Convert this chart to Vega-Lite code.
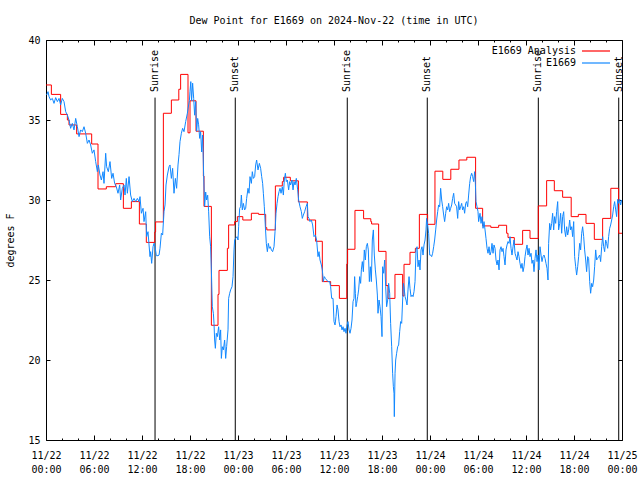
{
  "$schema": "https://vega.github.io/schema/vega-lite/v6.json",
  "autosize": "none",
  "padding": {"left": 46, "top": 40, "right": 18, "bottom": 40},
  "width": 576,
  "height": 400,
  "background": "white",
  "title": {"text": "Dew Point for E1669 on 2024-Nov-22 (time in UTC)", "font": "DejaVu Sans Mono", "fontSize": 10, "fontWeight": "normal", "color": "black", "anchor": "middle", "offset": 9},
  "config": {
    "view": {"stroke": "black", "strokeWidth": 1},
    "axis": {"labelFont": "DejaVu Sans Mono", "labelFontSize": 10, "labelColor": "black", "tickColor": "black", "titleFont": "DejaVu Sans Mono", "titleFontSize": 10, "titleFontWeight": "normal", "titleColor": "black", "grid": false, "domain": false}
  },
  "datasets": {
    "red": [
      {"h":0,"v":37.19},{"h":0.67,"v":36.6},{"h":1.83,"v":35.35},{"h":2.67,"v":35.0},{"h":2.875,"v":34.69},{"h":3.83,"v":34.13},{"h":5.71,"v":33.5},{"h":6.5,"v":30.69},{"h":7.54,"v":30.83},{"h":8.71,"v":31.02},{"h":9.67,"v":29.48},{"h":10.67,"v":29.9},{"h":11.67,"v":28.5},{"h":12.54,"v":27.35},{"h":13.6,"v":28.0},{"h":13.7,"v":28.63},{"h":14.67,"v":35.42},{"h":15.67,"v":36.25},{"h":16.6,"v":36.92},{"h":16.83,"v":37.85},{"h":17.75,"v":34.2},{"h":18.0,"v":36.2},{"h":18.75,"v":34.3},{"h":19.67,"v":31.5},{"h":19.75,"v":29.6},{"h":20.67,"v":22.17},{"h":21.5,"v":24.1},{"h":21.625,"v":25.6},{"h":22.67,"v":26.98},{"h":22.83,"v":28.44},{"h":23.58,"v":28.65},{"h":23.92,"v":28.96},{"h":24.6,"v":28.75},{"h":25.67,"v":29.17},{"h":26.58,"v":29.1},{"h":27.46,"v":28.27},{"h":27.6,"v":28.13},{"h":28.67,"v":30.88},{"h":29.54,"v":31.15},{"h":29.7,"v":31.42},{"h":30.54,"v":31.2},{"h":31.55,"v":29.88},{"h":32.67,"v":28.75},{"h":33.7,"v":27.42},{"h":34.54,"v":24.9},{"h":35.58,"v":24.65},{"h":36.67,"v":23.85},{"h":37.6,"v":26.0},{"h":37.7,"v":26.92},{"h":38.62,"v":29.35},{"h":39.7,"v":28.83},{"h":40.6,"v":28.65},{"h":40.7,"v":28.5},{"h":41.58,"v":26.79},{"h":42.5,"v":24.65},{"h":42.75,"v":23.85},{"h":43.62,"v":25.35},{"h":44.58,"v":24.0},{"h":44.75,"v":25.98},{"h":45.5,"v":26.73},{"h":46.17,"v":26.98},{"h":46.67,"v":29.1},{"h":47.7,"v":28.48},{"h":48.62,"v":31.8},{"h":49.6,"v":31.29},{"h":50.6,"v":31.92},{"h":51.62,"v":32.5},{"h":52.6,"v":32.67},{"h":53.7,"v":29.48},{"h":54.58,"v":28.38},{"h":55.6,"v":28.29},{"h":56.58,"v":28.42},{"h":57.58,"v":27.92},{"h":57.75,"v":27.65},{"h":58.54,"v":27.23},{"h":59.58,"v":28.1},{"h":60.5,"v":27.6},{"h":61.54,"v":29.63},{"h":62.58,"v":31.21},{"h":63.54,"v":30.58},{"h":64.58,"v":30.17},{"h":65.65,"v":28.96},{"h":66.54,"v":29.1},{"h":67.5,"v":28.54},{"h":68.54,"v":27.54},{"h":69.58,"v":28.85},{"h":70.6,"v":30.73},{"h":71.58,"v":27.92},{"h":72,"v":27.92}
    ],
    "blue": [
      {"h":0.08,"v":36.56},{"h":0.25,"v":36.77},{"h":0.38,"v":36.46},{"h":0.58,"v":36.25},{"h":0.79,"v":36.35},{"h":1.0,"v":36.04},{"h":1.21,"v":36.4},{"h":1.42,"v":36.15},{"h":1.63,"v":36.35},{"h":1.83,"v":35.94},{"h":2.04,"v":36.35},{"h":2.25,"v":36.15},{"h":2.46,"v":35.52},{"h":2.67,"v":35.31},{"h":2.88,"v":35.0},{"h":3.08,"v":34.48},{"h":3.29,"v":34.79},{"h":3.5,"v":34.38},{"h":3.71,"v":35.1},{"h":3.92,"v":34.58},{"h":4.13,"v":33.96},{"h":4.33,"v":34.38},{"h":4.54,"v":34.27},{"h":4.75,"v":34.58},{"h":4.96,"v":34.17},{"h":5.17,"v":33.54},{"h":5.38,"v":33.75},{"h":5.58,"v":33.44},{"h":5.79,"v":32.92},{"h":6.0,"v":33.13},{"h":6.21,"v":32.4},{"h":6.42,"v":31.77},{"h":6.54,"v":32.19},{"h":6.75,"v":31.56},{"h":6.92,"v":31.25},{"h":7.13,"v":31.77},{"h":7.25,"v":31.04},{"h":7.46,"v":32.92},{"h":7.58,"v":32.08},{"h":7.79,"v":31.77},{"h":8.0,"v":32.4},{"h":8.21,"v":31.35},{"h":8.38,"v":31.67},{"h":8.58,"v":31.04},{"h":8.79,"v":30.83},{"h":9.0,"v":30.42},{"h":9.21,"v":30.94},{"h":9.33,"v":30.0},{"h":9.54,"v":30.73},{"h":9.75,"v":30.94},{"h":9.88,"v":30.31},{"h":10.04,"v":31.35},{"h":10.17,"v":30.42},{"h":10.38,"v":31.46},{"h":10.58,"v":30.31},{"h":10.79,"v":29.9},{"h":11.0,"v":30.1},{"h":11.21,"v":29.9},{"h":11.42,"v":30.1},{"h":11.63,"v":29.9},{"h":11.75,"v":30.21},{"h":11.92,"v":29.17},{"h":12.13,"v":29.48},{"h":12.25,"v":28.65},{"h":12.46,"v":29.27},{"h":12.58,"v":27.71},{"h":12.75,"v":28.02},{"h":12.88,"v":27.19},{"h":13.0,"v":26.46},{"h":13.08,"v":26.77},{"h":13.21,"v":26.04},{"h":13.38,"v":27.08},{"h":13.5,"v":27.29},{"h":13.63,"v":27.08},{"h":13.79,"v":26.52},{"h":14.0,"v":26.52},{"h":14.13,"v":26.56},{"h":14.25,"v":26.98},{"h":14.42,"v":27.92},{"h":14.58,"v":27.81},{"h":14.75,"v":29.27},{"h":14.88,"v":29.69},{"h":15.0,"v":30.94},{"h":15.17,"v":31.56},{"h":15.38,"v":32.08},{"h":15.5,"v":32.19},{"h":15.67,"v":31.35},{"h":15.83,"v":31.98},{"h":16.0,"v":30.42},{"h":16.17,"v":31.35},{"h":16.33,"v":30.73},{"h":16.5,"v":32.19},{"h":16.63,"v":32.85},{"h":16.75,"v":33.65},{"h":16.92,"v":34.17},{"h":17.08,"v":34.48},{"h":17.25,"v":34.27},{"h":17.46,"v":34.9},{"h":17.67,"v":35.42},{"h":17.83,"v":35.94},
      {"h":17.92,"v":36.2},{"h":18.0,"v":36.8},{"h":18.1,"v":37.4},{"h":18.2,"v":36.2},{"h":18.33,"v":37.3},{"h":18.46,"v":36.35},{"h":18.58,"v":35.3},{"h":18.71,"v":36.15},{"h":18.83,"v":34.3},{"h":18.96,"v":35.1},{"h":19.08,"v":34.7},{"h":19.21,"v":33.85},{"h":19.33,"v":34.27},{"h":19.46,"v":33.0},{"h":19.58,"v":34.06},{"h":19.71,"v":31.5},{"h":19.83,"v":29.6},{"h":19.96,"v":30.5},{"h":20.08,"v":30.0},{"h":20.21,"v":30.3},{"h":20.33,"v":29.3},{"h":20.46,"v":27.7},{"h":20.58,"v":27.08},{"h":20.67,"v":25.63},
      {"h":20.79,"v":23.33},{"h":20.92,"v":22.92},{"h":21.0,"v":22.29},{"h":21.08,"v":21.25},{"h":21.17,"v":20.73},{"h":21.29,"v":21.67},{"h":21.42,"v":21.46},{"h":21.58,"v":22.08},{"h":21.71,"v":21.25},{"h":21.83,"v":21.88},{"h":21.92,"v":20.1},{"h":22.04,"v":20.83},{"h":22.17,"v":20.63},{"h":22.33,"v":21.25},{"h":22.46,"v":20.1},{"h":22.58,"v":20.83},{"h":22.75,"v":21.88},{"h":22.83,"v":23.85},{"h":22.96,"v":24.17},{"h":23.08,"v":24.38},{"h":23.25,"v":24.58},{"h":23.38,"v":25.21},{"h":23.5,"v":26.88},{"h":23.58,"v":27.5},{"h":23.71,"v":27.6},{"h":23.88,"v":27.71},{"h":24.0,"v":27.5},{"h":24.08,"v":28.33},{"h":24.21,"v":29.48},{"h":24.33,"v":29.58},{"h":24.42,"v":30.31},{"h":24.54,"v":29.38},{"h":24.67,"v":29.79},{"h":24.83,"v":29.38},{"h":24.96,"v":29.48},{"h":25.08,"v":30.1},{"h":25.25,"v":30.73},{"h":25.38,"v":30.42},{"h":25.5,"v":31.46},{"h":25.67,"v":31.04},{"h":25.79,"v":31.77},{"h":25.92,"v":31.35},{"h":26.08,"v":31.46},{"h":26.21,"v":32.19},{"h":26.33,"v":32.5},{"h":26.5,"v":31.88},{"h":26.67,"v":32.29},{"h":26.83,"v":31.98},{"h":26.96,"v":31.46},{"h":27.08,"v":31.04},{"h":27.17,"v":30.42},{"h":27.29,"v":29.58},{"h":27.42,"v":28.33},{"h":27.54,"v":27.29},{"h":27.67,"v":26.77},{"h":27.79,"v":27.29},{"h":27.92,"v":26.98},{"h":28.04,"v":27.08},{"h":28.17,"v":26.88},{"h":28.33,"v":26.77},{"h":28.5,"v":27.08},{"h":28.63,"v":28.02},{"h":28.75,"v":29.17},{"h":28.88,"v":29.79},{"h":29.0,"v":30.21},{"h":29.13,"v":30.52},{"h":29.25,"v":30.73},{"h":29.38,"v":30.42},{"h":29.54,"v":30.83},{"h":29.67,"v":30.31},{"h":29.79,"v":31.25},{"h":29.92,"v":31.67},{"h":30.04,"v":31.15},{"h":30.17,"v":31.25},{"h":30.33,"v":30.63},{"h":30.46,"v":31.15},{"h":30.58,"v":30.94},{"h":30.75,"v":31.25},{"h":30.88,"v":30.63},{"h":31.0,"v":31.15},{"h":31.13,"v":30.94},{"h":31.29,"v":31.35},{"h":31.46,"v":30.63},{"h":31.58,"v":30.0},{"h":31.75,"v":29.58},{"h":31.92,"v":29.27},{"h":32.04,"v":28.85},{"h":32.17,"v":29.06},{"h":32.33,"v":29.27},{"h":32.5,"v":29.58},{"h":32.67,"v":29.79},{"h":32.75,"v":28.96},{"h":32.88,"v":28.85},{"h":33.0,"v":28.65},{"h":33.17,"v":28.75},{"h":33.33,"v":28.44},{"h":33.5,"v":27.71},{"h":33.67,"v":27.81},{"h":33.83,"v":27.5},{"h":34.0,"v":26.46},{"h":34.13,"v":26.77},{"h":34.25,"v":26.25},{"h":34.42,"v":25.94},{"h":34.54,"v":25.63},{"h":34.67,"v":24.9},{"h":34.79,"v":25.21},{"h":34.92,"v":25.1},{"h":35.08,"v":25.0},{"h":35.25,"v":24.9},{"h":35.46,"v":24.9},{"h":35.58,"v":24.58},{"h":35.71,"v":23.85},
      {"h":35.88,"v":23.85},{"h":36.0,"v":22.4},{"h":36.13,"v":22.19},{"h":36.25,"v":22.71},{"h":36.38,"v":23.44},{"h":36.5,"v":23.13},{"h":36.63,"v":22.4},{"h":36.75,"v":22.08},{"h":36.88,"v":22.19},{"h":37.0,"v":21.88},{"h":37.13,"v":22.08},{"h":37.25,"v":21.77},{"h":37.38,"v":21.98},{"h":37.5,"v":21.67},{"h":37.63,"v":22.19},{"h":37.75,"v":22.4},{"h":37.88,"v":21.88},{"h":38.0,"v":21.67},{"h":38.13,"v":21.98},{"h":38.25,"v":22.5},{"h":38.38,"v":23.65},{"h":38.5,"v":23.85},{"h":38.58,"v":25.21},{"h":38.67,"v":24.17},{"h":38.75,"v":23.33},{"h":38.83,"v":23.54},{"h":38.96,"v":23.96},{"h":39.08,"v":24.38},{"h":39.21,"v":25.21},{"h":39.33,"v":24.79},{"h":39.42,"v":25.63},{"h":39.54,"v":26.15},{"h":39.67,"v":25.52},{"h":39.79,"v":26.88},{"h":39.92,"v":26.25},{"h":40.04,"v":27.08},{"h":40.17,"v":27.29},{"h":40.29,"v":26.88},{"h":40.42,"v":24.9},{"h":40.54,"v":25.83},{"h":40.67,"v":24.9},{"h":40.79,"v":27.5},{"h":40.92,"v":28.13},{"h":41.04,"v":26.56},{"h":41.17,"v":25.63},{"h":41.29,"v":25.0},{"h":41.42,"v":24.06},{"h":41.5,"v":22.92},{"h":41.63,"v":23.75},{"h":41.75,"v":23.33},{"h":41.88,"v":22.71},{"h":42.0,"v":21.46},{"h":42.08,"v":25.83},{"h":42.21,"v":25.42},{"h":42.33,"v":26.25},{"h":42.46,"v":24.58},{"h":42.58,"v":23.33},{"h":42.71,"v":23.75},{"h":42.83,"v":24.79},{"h":42.96,"v":24.17},{"h":43.08,"v":22.29},{"h":43.21,"v":20.83},{"h":43.33,"v":19.17},{"h":43.42,"v":18.33},{"h":43.5,"v":17.92},{"h":43.54,"v":16.46},{"h":43.63,"v":19.17},{"h":43.71,"v":20.0},{"h":43.83,"v":20.42},{"h":43.96,"v":20.83},{"h":44.08,"v":20.94},{"h":44.21,"v":21.77},{"h":44.33,"v":22.4},{"h":44.46,"v":22.29},{"h":44.58,"v":23.75},{"h":44.67,"v":24.79},{"h":44.75,"v":24.58},{"h":44.88,"v":23.96},{"h":45.0,"v":23.75},{"h":45.13,"v":23.44},{"h":45.25,"v":24.38},{"h":45.38,"v":25.21},{"h":45.5,"v":24.48},{"h":45.63,"v":23.96},{"h":45.75,"v":24.06},{"h":45.88,"v":23.96},{"h":46.0,"v":24.27},{"h":46.13,"v":24.9},{"h":46.25,"v":26.88},{"h":46.38,"v":27.08},{"h":46.5,"v":25.83},{"h":46.63,"v":26.25},{"h":46.75,"v":25.63},{"h":46.88,"v":26.88},{"h":47.0,"v":27.08},{"h":47.13,"v":26.56},{"h":47.25,"v":27.19},{"h":47.38,"v":27.5},{"h":47.5,"v":28.13},{"h":47.58,"v":28.85},{"h":47.71,"v":28.44},{"h":47.83,"v":27.92},{"h":47.96,"v":26.56},{"h":48.08,"v":26.56},{"h":48.21,"v":26.46},{"h":48.33,"v":26.67},{"h":48.46,"v":27.08},{"h":48.58,"v":27.5},{"h":48.71,"v":28.13},{"h":48.83,"v":28.75},{"h":48.96,"v":29.27},{"h":49.08,"v":29.69},{"h":49.21,"v":29.58},{"h":49.33,"v":30.73},{"h":49.46,"v":30.0},{"h":49.58,"v":29.58},{"h":49.71,"v":29.06},{"h":49.83,"v":28.65},{"h":49.96,"v":29.17},{"h":50.08,"v":29.58},{"h":50.21,"v":29.38},{"h":50.33,"v":29.79},{"h":50.46,"v":29.27},{"h":50.58,"v":29.48},{"h":50.71,"v":29.69},{"h":50.83,"v":30.1},{"h":50.96,"v":30.42},{"h":51.08,"v":29.79},{"h":51.21,"v":29.69},{"h":51.33,"v":29.58},{"h":51.46,"v":28.85},{"h":51.58,"v":29.9},{"h":51.71,"v":29.38},{"h":51.83,"v":29.58},{"h":51.96,"v":29.79},{"h":52.08,"v":29.38},{"h":52.21,"v":29.58},{"h":52.33,"v":29.17},{"h":52.46,"v":29.79},{"h":52.58,"v":29.9},{"h":52.71,"v":29.58},{"h":52.83,"v":30.31},{"h":52.96,"v":31.04},{"h":53.08,"v":31.46},{"h":53.21,"v":31.67},{"h":53.33,"v":31.46},{"h":53.46,"v":31.15},{"h":53.58,"v":31.77},{"h":53.67,"v":31.04},{"h":53.75,"v":29.9},{"h":53.88,"v":29.58},{"h":54.0,"v":29.27},{"h":54.08,"v":28.65},
      {"h":54.25,"v":29.17},{"h":54.38,"v":28.54},{"h":54.5,"v":28.96},{"h":54.63,"v":28.23},{"h":54.75,"v":28.65},{"h":54.88,"v":28.13},{"h":55.0,"v":27.6},{"h":55.13,"v":26.98},{"h":55.25,"v":26.67},{"h":55.38,"v":27.08},{"h":55.5,"v":26.56},{"h":55.63,"v":26.77},{"h":55.75,"v":27.29},{"h":55.88,"v":26.67},{"h":56.0,"v":27.19},{"h":56.13,"v":26.98},{"h":56.25,"v":26.25},{"h":56.38,"v":25.94},{"h":56.5,"v":26.25},{"h":56.63,"v":25.63},{"h":56.75,"v":26.88},{"h":56.88,"v":27.08},{"h":57.0,"v":26.77},{"h":57.13,"v":26.98},{"h":57.25,"v":26.46},{"h":57.38,"v":25.94},{"h":57.5,"v":26.88},{"h":57.63,"v":27.19},{"h":57.75,"v":27.4},{"h":57.88,"v":27.29},{"h":58.0,"v":27.71},{"h":58.13,"v":26.98},{"h":58.25,"v":26.56},{"h":58.38,"v":27.08},{"h":58.5,"v":27.5},{"h":58.63,"v":26.67},{"h":58.75,"v":26.46},{"h":58.88,"v":26.25},{"h":59.0,"v":26.77},{"h":59.13,"v":26.46},{"h":59.25,"v":26.04},{"h":59.38,"v":25.73},{"h":59.5,"v":26.04},{"h":59.63,"v":25.52},{"h":59.75,"v":25.83},{"h":59.88,"v":26.46},{"h":60.0,"v":26.88},{"h":60.13,"v":27.19},{"h":60.25,"v":26.56},{"h":60.38,"v":26.98},{"h":60.5,"v":26.46},{"h":60.63,"v":26.67},{"h":60.75,"v":26.04},{"h":60.88,"v":26.25},{"h":61.0,"v":25.52},{"h":61.13,"v":26.35},{"h":61.25,"v":26.88},{"h":61.38,"v":26.15},{"h":61.5,"v":26.56},{"h":61.63,"v":25.63},{"h":61.75,"v":27.08},{"h":61.88,"v":26.56},{"h":62.0,"v":26.15},{"h":62.13,"v":26.46},{"h":62.25,"v":26.56},{"h":62.38,"v":26.35},{"h":62.5,"v":26.04},{"h":62.63,"v":25.73},{"h":62.75,"v":25.0},{"h":62.83,"v":27.29},{"h":62.96,"v":28.54},{"h":63.08,"v":28.13},{"h":63.21,"v":28.54},{"h":63.33,"v":29.17},{"h":63.46,"v":28.13},{"h":63.58,"v":28.96},{"h":63.71,"v":28.54},{"h":63.83,"v":29.27},{"h":63.96,"v":29.9},{"h":64.08,"v":28.13},{"h":64.21,"v":28.54},{"h":64.33,"v":29.17},{"h":64.46,"v":27.92},{"h":64.58,"v":28.96},{"h":64.71,"v":29.27},{"h":64.83,"v":28.13},{"h":64.96,"v":27.71},{"h":65.08,"v":28.33},{"h":65.21,"v":27.81},{"h":65.33,"v":28.13},{"h":65.46,"v":28.75},{"h":65.58,"v":28.13},{"h":65.71,"v":28.33},{"h":65.83,"v":27.71},{"h":65.96,"v":28.65},{"h":66.08,"v":26.46},{"h":66.21,"v":25.83},{"h":66.33,"v":25.31},{"h":66.46,"v":25.83},{"h":66.58,"v":26.46},{"h":66.71,"v":27.29},{"h":66.83,"v":26.88},{"h":66.96,"v":27.92},{"h":67.08,"v":28.33},{"h":67.21,"v":27.71},{"h":67.33,"v":26.88},{"h":67.46,"v":26.25},{"h":67.58,"v":25.52},{"h":67.71,"v":26.46},{"h":67.83,"v":26.35},{"h":67.96,"v":24.9},{"h":68.08,"v":24.17},{"h":68.21,"v":24.79},{"h":68.33,"v":24.58},{"h":68.46,"v":25.0},{"h":68.58,"v":25.83},{"h":68.71,"v":26.88},{"h":68.83,"v":26.25},{"h":68.96,"v":26.35},{"h":69.08,"v":26.46},{"h":69.21,"v":26.56},{"h":69.33,"v":26.15},{"h":69.46,"v":27.08},{"h":69.58,"v":27.71},{"h":69.71,"v":27.08},{"h":69.83,"v":26.77},{"h":69.96,"v":27.5},{"h":70.08,"v":27.29},{"h":70.21,"v":26.98},{"h":70.33,"v":27.71},{"h":70.46,"v":28.23},{"h":70.58,"v":28.44},{"h":70.71,"v":28.75},{"h":70.83,"v":29.06},{"h":70.96,"v":29.58},{"h":71.08,"v":29.9},{"h":71.21,"v":29.38},{"h":71.33,"v":28.96},{"h":71.46,"v":30.04},{"h":71.58,"v":29.79},{"h":71.71,"v":30.04},{"h":71.83,"v":29.69},{"h":71.96,"v":30.0}
    ],
    "sun": [
      {"h":13.63,"e":"Sunrise"},{"h":23.66,"e":"Sunset"},{"h":37.66,"e":"Sunrise"},{"h":47.66,"e":"Sunset"},{"h":61.54,"e":"Sunrise"},{"h":71.59,"e":"Sunset"}
    ]
  },
  "layer": [
    {
      "data": {"name": "sun"},
      "mark": {"type": "rule", "color": "black", "strokeWidth": 1},
      "encoding": {
        "x": {"field": "h", "type": "quantitative", "scale": {"domain": [0, 72], "nice": false, "zero": false},
          "axis": {"orient": "bottom", "values": [0,2,4,6,8,10,12,14,16,18,20,22,24,26,28,30,32,34,36,38,40,42,44,46,48,50,52,54,56,58,60,62,64,66,68,70,72],
            "tickSize": {"condition": {"test": "datum.value % 6 === 0", "value": -5}, "value": -2},
            "labelExpr": "datum.value % 6 === 0 ? [['11/22','11/23','11/24','11/25'][floor(datum.value/24)], ['00:00','06:00','12:00','18:00'][floor((datum.value%24)/6)]] : ''",
            "labelLineHeight": 14, "labelPadding": 15, "labelFlush": false, "labelOverlap": false, "labelAngle": 0, "labelBaseline": "top", "title": null}},
        "y": {"datum": 15, "type": "quantitative", "scale": {"domain": [15, 40], "nice": false, "zero": false},
          "axis": {"orient": "left", "values": [15,20,25,30,35,40], "tickSize": -4, "labelPadding": 10, "title": "degrees F", "titlePadding": 12}},
        "y2": {"datum": 36.4}
      }
    },
    {
      "data": {"name": "sun"},
      "mark": {"type": "text", "angle": 270, "align": "left", "baseline": "middle", "font": "DejaVu Sans Mono", "fontSize": 10, "color": "black"},
      "encoding": {
        "x": {"field": "h", "type": "quantitative",
          "axis": {"orient": "top", "values": [0,2,4,6,8,10,12,14,16,18,20,22,24,26,28,30,32,34,36,38,40,42,44,46,48,50,52,54,56,58,60,62,64,66,68,70,72],
            "tickSize": {"condition": {"test": "datum.value % 6 === 0", "value": -5}, "value": -2}, "labels": false, "title": null}},
        "y": {"datum": 36.75, "type": "quantitative",
          "axis": {"orient": "right", "values": [15,20,25,30,35,40], "tickSize": -4, "labels": false, "title": null}},
        "text": {"field": "e"}
      }
    },
    {
      "data": {"name": "red"},
      "mark": {"type": "line", "interpolate": "step-after", "strokeWidth": 1},
      "encoding": {
        "x": {"field": "h", "type": "quantitative", "axis": null},
        "y": {"field": "v", "type": "quantitative", "axis": null},
        "color": {"datum": "E1669 Analysis", "type": "nominal",
          "scale": {"domain": ["E1669 Analysis", "E1669"], "range": ["#ff0000", "#1188ff"]},
          "legend": {"orient": "none", "legendX": 543, "legendY": 4, "title": null, "symbolType": "M-2.333,0L2.333,0", "symbolSize": 144, "symbolStrokeWidth": 1.2, "symbolFillColor": "transparent", "labelAlign": "right", "labelOffset": -27, "labelFont": "DejaVu Sans Mono", "labelFontSize": 10, "labelColor": "black", "rowPadding": 0, "padding": 0}}
      }
    },
    {
      "data": {"name": "blue"},
      "mark": {"type": "line", "strokeWidth": 1},
      "encoding": {
        "x": {"field": "h", "type": "quantitative", "axis": null},
        "y": {"field": "v", "type": "quantitative", "axis": null},
        "color": {"datum": "E1669", "type": "nominal"}
      }
    }
  ],
  "resolve": {"axis": {"x": "independent", "y": "independent"}}
}
